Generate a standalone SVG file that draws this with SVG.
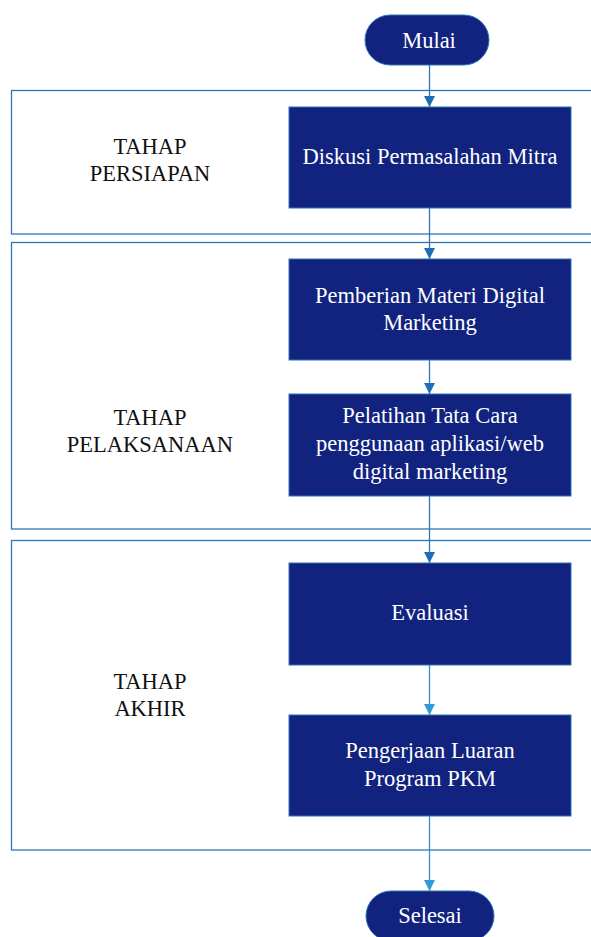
<svg xmlns="http://www.w3.org/2000/svg" width="591" height="937" viewBox="0 0 591 937">
<style>
.panel{fill:#ffffff;stroke:#2e75b6;stroke-width:1.3}
.box{fill:#12237f;stroke:#2e75b6;stroke-width:1}
.bt{font-family:"Liberation Serif","Times New Roman",serif;font-size:22.5px;fill:#ffffff;text-anchor:middle}
.lt{font-family:"Liberation Serif","Times New Roman",serif;font-size:22.5px;fill:#111111;text-anchor:middle}
.con{stroke:#2e75b6;stroke-width:1.3;fill:none}
.con2{stroke:#3a8fc8;stroke-width:1.3;fill:none}
</style>
<defs>
<marker id="ah" viewBox="0 0 10 10" refX="10" refY="5" markerWidth="11" markerHeight="11" markerUnits="userSpaceOnUse" orient="auto">
<path d="M0,0 L10,5 L0,10 Z" fill="#1f6fb5"/>
</marker>
<marker id="ah2" viewBox="0 0 10 10" refX="10" refY="5" markerWidth="11" markerHeight="11" markerUnits="userSpaceOnUse" orient="auto">
<path d="M0,0 L10,5 L0,10 Z" fill="#2e9bd6"/>
</marker>
</defs>
<rect width="591" height="937" fill="#ffffff"/>
<g id="panel-persiapan">
<rect class="panel" x="11.5" y="90.5" width="600" height="143.5"/>
<text class="lt" x="150" y="154">TAHAP</text>
<text class="lt" x="150" y="181">PERSIAPAN</text>
</g>
<g id="panel-pelaksanaan">
<rect class="panel" x="11.5" y="242.5" width="600" height="286.5"/>
<text class="lt" x="150" y="425">TAHAP</text>
<text class="lt" x="150" y="452">PELAKSANAAN</text>
</g>
<g id="panel-akhir">
<rect class="panel" x="11.5" y="540.5" width="600" height="309.5"/>
<text class="lt" x="150" y="689">TAHAP</text>
<text class="lt" x="150" y="716">AKHIR</text>
</g>
<g id="connectors">
<line class="con" x1="429.5" y1="65" x2="429.5" y2="107" marker-end="url(#ah)"/>
<line class="con" x1="429.5" y1="208" x2="429.5" y2="259" marker-end="url(#ah)"/>
<line class="con" x1="429.5" y1="360" x2="429.5" y2="394" marker-end="url(#ah)"/>
<line class="con" x1="429.5" y1="496" x2="429.5" y2="563" marker-end="url(#ah)"/>
<line class="con2" x1="429.5" y1="665" x2="429.5" y2="715" marker-end="url(#ah2)"/>
<line class="con2" x1="429.5" y1="816" x2="429.5" y2="891" marker-end="url(#ah2)"/>
</g>
<g id="mulai">
<rect class="box" x="365" y="15" width="124" height="50" rx="25" ry="25"/>
<text class="bt" x="429" y="48">Mulai</text>
</g>
<g id="diskusi">
<rect class="box" x="289" y="107" width="282" height="101"/>
<text class="bt" x="430" y="164">Diskusi Permasalahan Mitra</text>
</g>
<g id="materi">
<rect class="box" x="289" y="259" width="282" height="101"/>
<text class="bt" x="430" y="303">Pemberian Materi Digital</text>
<text class="bt" x="430" y="330">Marketing</text>
</g>
<g id="pelatihan">
<rect class="box" x="289" y="394" width="282" height="102"/>
<text class="bt" x="430" y="423">Pelatihan Tata Cara</text>
<text class="bt" x="430" y="451">penggunaan aplikasi/web</text>
<text class="bt" x="430" y="479">digital marketing</text>
</g>
<g id="evaluasi">
<rect class="box" x="289" y="563" width="282" height="102"/>
<text class="bt" x="430" y="620">Evaluasi</text>
</g>
<g id="luaran">
<rect class="box" x="289" y="715" width="282" height="101"/>
<text class="bt" x="430" y="758">Pengerjaan Luaran</text>
<text class="bt" x="430" y="786">Program PKM</text>
</g>
<g id="selesai">
<rect class="box" x="366" y="891" width="128" height="50" rx="25" ry="25"/>
<text class="bt" x="430" y="923">Selesai</text>
</g>
</svg>
